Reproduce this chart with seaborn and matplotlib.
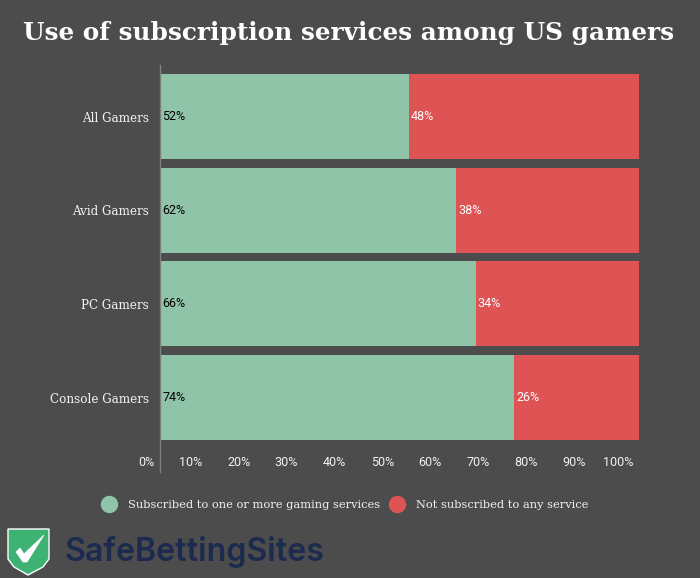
import matplotlib
matplotlib.use("Agg")
import matplotlib.pyplot as plt
from matplotlib.lines import Line2D
from matplotlib.patches import Polygon
from matplotlib.transforms import ScaledTranslation
import pandas as pd
import seaborn as sns

categories = ["All Gamers", "Avid Gamers", "PC Gamers", "Console Gamers"]
subscribed = [52, 62, 66, 74]
not_subscribed = [48, 38, 34, 26]
ticks = [0, 10, 20, 30, 40, 50, 60, 70, 80, 90, 100]
series_names = ["Subscribed to one or more gaming services", "Not subscribed to any service"]
title = "Use of subscription services among US gamers"
brand = "SafeBettingSites"

BG = "#4c4c4c"; GREEN = "#8fc4a9"; RED = "#de5455"
TEXT = "#f2f2f2"
SERIF = "DejaVu Serif"
NUM = "Roboto"

sns.set_theme(style="white")
plt.rcParams["font.family"] = [SERIF]

df = pd.DataFrame({"cat": categories, "sub": subscribed, "nots": not_subscribed})
df["total"] = df["sub"] + df["nots"]

W, H = 700, 578
fig = plt.figure(figsize=(W / 100, H / 100), dpi=100, facecolor=BG)
ax = fig.add_axes([159.5 / W, 1 - 472 / H, 479 / W, 407 / H], facecolor=BG)

sns.barplot(data=df, x="total", y="cat", color=RED, saturation=1, width=0.907, linewidth=0, ax=ax)
sns.barplot(data=df, x="sub", y="cat", color=GREEN, saturation=1, width=0.907, linewidth=0, ax=ax)

ax.set_xlim(0, 100)
ax.set_ylim(3.795, -0.55)
ax.set_xlabel(""); ax.set_ylabel("")

for i, (s, n) in enumerate(zip(subscribed, not_subscribed)):
    ax.annotate(f"{s}%", (0, i), xytext=(2, 0), textcoords="offset points", color="black",
                fontsize=9, va="center", ha="left", family=NUM)
    ax.annotate(f"{n}%", (s, i), xytext=(1.5, 0), textcoords="offset points", color="white",
                fontsize=9, va="center", ha="left", family=NUM)

for s in ["top", "right", "bottom"]:
    ax.spines[s].set_visible(False)
ax.spines["left"].set_color("#808080")
ax.spines["left"].set_linewidth(1)

ax.set_xticks(ticks)
ax.set_xticklabels([f"{t}%" for t in ticks], ha="right", color=TEXT, fontsize=9, family=NUM)
ax.tick_params(axis="x", length=0, pad=-11.5)
ax.tick_params(axis="y", length=0, pad=7.5, labelcolor=TEXT, labelsize=8.6)
shift = ScaledTranslation(-5 / 100, 0, fig.dpi_scale_trans)
for lab in ax.get_xticklabels():
    lab.set_transform(lab.get_transform() + shift)

fig.text(349 / W, 1 - 33 / H, title, color="white", fontsize=17.8, fontweight="bold",
         ha="center", va="center", family=SERIF)

handles = [Line2D([], [], ls="", marker="o", ms=11.5, mfc=c, mec=c) for c in (GREEN, RED)]
fig.legend(handles, series_names, loc="center", bbox_to_anchor=(343 / W, 1 - 505 / H), ncol=2,
           frameon=False, labelcolor=TEXT, prop={"family": SERIF, "size": 8.2},
           columnspacing=0.55, handletextpad=0.6)

# logo
pts = [(8, 529), (49, 529), (49, 559), (43, 567), (28, 575), (14, 567), (8, 559)]
fig.add_artist(Polygon([(x / W, 1 - y / H) for x, y in pts], closed=True, transform=fig.transFigure,
                       fc="#3db272", ec="white", lw=1))
chk = [(16, 552), (20, 548), (24, 554), (44, 535), (27, 562), (23, 562)]
fig.add_artist(Polygon([(x / W, 1 - y / H) for x, y in chk], closed=True, transform=fig.transFigure,
                       fc="white", ec="white", lw=0.5))
fig.text(64 / W, 1 - 552 / H, brand, color="#1b2a4e", fontsize=23.2, fontweight="semibold",
         family="Inter", ha="left", va="center")

fig.savefig("out.png", dpi=100, facecolor=BG)
